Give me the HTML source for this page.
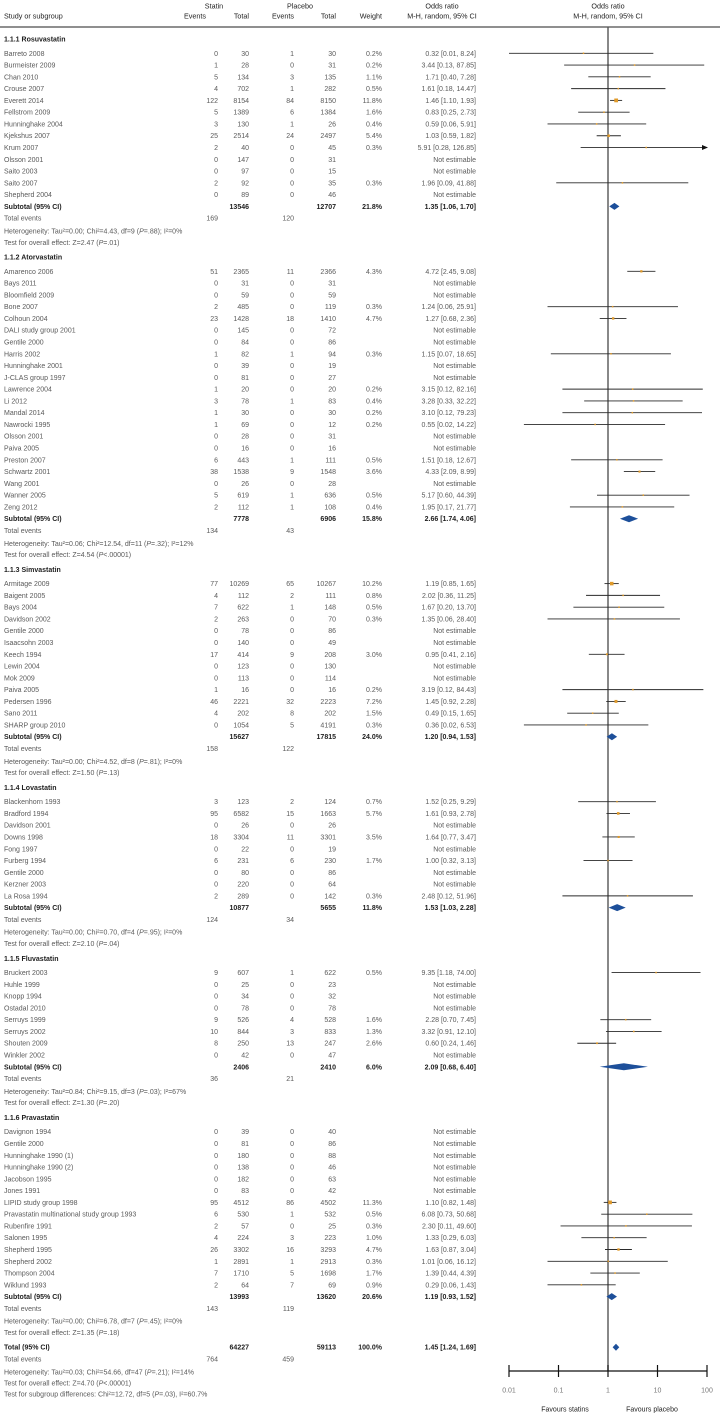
<!DOCTYPE html>
<html><head><meta charset="utf-8">
<style>
html,body{margin:0;padding:0;background:#fff;}
svg{display:block;font-family:"Liberation Sans",sans-serif;}
</style></head>
<body>
<svg id="plot" width="720" height="1416" viewBox="0 0 720 1416" xmlns="http://www.w3.org/2000/svg"></svg>
<script>
// ---- data arrays ----
const groupNames = ["1.1.1 Rosuvastatin","1.1.2 Atorvastatin","1.1.3 Simvastatin","1.1.4 Lovastatin","1.1.5 Fluvastatin","1.1.6 Pravastatin"];
const studyNames = [
 ["Barreto 2008","Burmeister 2009","Chan 2010","Crouse 2007","Everett 2014","Fellstrom 2009","Hunninghake 2004","Kjekshus 2007","Krum 2007","Olsson 2001","Saito 2003","Saito 2007","Shepherd 2004"],
 ["Amarenco 2006","Bays 2011","Bloomfield 2009","Bone 2007","Colhoun 2004","DALI study group 2001","Gentile 2000","Harris 2002","Hunninghake 2001","J-CLAS group 1997","Lawrence 2004","Li 2012","Mandal 2014","Nawrocki 1995","Olsson 2001","Paiva 2005","Preston 2007","Schwartz 2001","Wang 2001","Wanner 2005","Zeng 2012"],
 ["Armitage 2009","Baigent 2005","Bays 2004","Davidson 2002","Gentile 2000","Isaacsohn 2003","Keech 1994","Lewin 2004","Mok 2009","Paiva 2005","Pedersen 1996","Sano 2011","SHARP group 2010"],
 ["Blackenhorn 1993","Bradford 1994","Davidson 2001","Downs 1998","Fong 1997","Furberg 1994","Gentile 2000","Kerzner 2003","La Rosa 1994"],
 ["Bruckert 2003","Huhle 1999","Knopp 1994","Ostadal 2010","Serruys 1999","Serruys 2002","Shouten 2009","Winkler 2002"],
 ["Davignon 1994","Gentile 2000","Hunninghake 1990 (1)","Hunninghake 1990 (2)","Jacobson 1995","Jones 1991","LIPID study group 1998","Pravastatin multinational study group 1993","Rubenfire 1991","Salonen 1995","Shepherd 1995","Shepherd 2002","Thompson 2004","Wiklund 1993"]
];
const statinEvents = [
 [0,1,5,4,122,5,3,25,2,0,0,2,0],
 [51,0,0,2,23,0,0,1,0,0,1,3,1,1,0,0,6,38,0,5,2],
 [77,4,7,2,0,0,17,0,0,1,46,4,0],
 [3,95,0,18,0,6,0,0,2],
 [9,0,0,0,9,10,8,0],
 [0,0,0,0,0,0,95,6,2,4,26,1,7,2]
];
const statinTotal = [
 [30,28,134,702,8154,1389,130,2514,40,147,97,92,89],
 [2365,31,59,485,1428,145,84,82,39,81,20,78,30,69,28,16,443,1538,26,619,112],
 [10269,112,622,263,78,140,414,123,113,16,2221,202,1054],
 [123,6582,26,3304,22,231,80,220,289],
 [607,25,34,78,526,844,250,42],
 [39,81,180,138,182,83,4512,530,57,224,3302,2891,1710,64]
];
const placeboEvents = [
 [1,0,3,1,84,6,1,24,0,0,0,0,0],
 [11,0,0,0,18,0,0,1,0,0,0,1,0,0,0,0,1,9,0,1,1],
 [65,2,1,0,0,0,9,0,0,0,32,8,5],
 [2,15,0,11,0,6,0,0,0],
 [1,0,0,0,4,3,13,0],
 [0,0,0,0,0,0,86,1,0,3,16,1,5,7]
];
const placeboTotal = [
 [30,31,135,282,8150,1384,26,2497,45,31,15,35,46],
 [2366,31,59,119,1410,72,86,94,19,27,20,83,30,12,31,16,111,1548,28,636,108],
 [10267,111,148,70,86,49,208,130,114,16,2223,202,4191],
 [124,1663,26,3301,19,230,86,64,142],
 [622,23,32,78,528,833,247,47],
 [40,86,88,46,63,42,4502,532,25,223,3293,2913,1698,69]
];
const weights = [
 [0.2,0.2,1.1,0.5,11.8,1.6,0.4,5.4,0.3,null,null,0.3,null],
 [4.3,null,null,0.3,4.7,null,null,0.3,null,null,0.2,0.4,0.2,0.2,null,null,0.5,3.6,null,0.5,0.4],
 [10.2,0.8,0.5,0.3,null,null,3.0,null,null,0.2,7.2,1.5,0.3],
 [0.7,5.7,null,3.5,null,1.7,null,null,0.3],
 [0.5,null,null,null,1.6,1.3,2.6,null],
 [null,null,null,null,null,null,11.3,0.5,0.3,1.0,4.7,0.3,1.7,0.9]
];
const orValues = [
 [0.32,3.44,1.71,1.61,1.46,0.83,0.59,1.03,5.91,null,null,1.96,null],
 [4.72,null,null,1.24,1.27,null,null,1.15,null,null,3.15,3.28,3.10,0.55,null,null,1.51,4.33,null,5.17,1.95],
 [1.19,2.02,1.67,1.35,null,null,0.95,null,null,3.19,1.45,0.49,0.36],
 [1.52,1.61,null,1.64,null,1.00,null,null,2.48],
 [9.35,null,null,null,2.28,3.32,0.60,null],
 [null,null,null,null,null,null,1.10,6.08,2.30,1.33,1.63,1.01,1.39,0.29]
];
const orLower = [
 [0.01,0.13,0.40,0.18,1.10,0.25,0.06,0.59,0.28,null,null,0.09,null],
 [2.45,null,null,0.06,0.68,null,null,0.07,null,null,0.12,0.33,0.12,0.02,null,null,0.18,2.09,null,0.60,0.17],
 [0.85,0.36,0.20,0.06,null,null,0.41,null,null,0.12,0.92,0.15,0.02],
 [0.25,0.93,null,0.77,null,0.32,null,null,0.12],
 [1.18,null,null,null,0.70,0.91,0.24,null],
 [null,null,null,null,null,null,0.82,0.73,0.11,0.29,0.87,0.06,0.44,0.06]
];
const orUpper = [
 [8.24,87.85,7.28,14.47,1.93,2.73,5.91,1.82,126.85,null,null,41.88,null],
 [9.08,null,null,25.91,2.36,null,null,18.65,null,null,82.16,32.22,79.23,14.22,null,null,12.67,8.99,null,44.39,21.77],
 [1.65,11.25,13.70,28.40,null,null,2.16,null,null,84.43,2.28,1.65,6.53],
 [9.29,2.78,null,3.47,null,3.13,null,null,51.96],
 [74.00,null,null,null,7.45,12.10,1.46,null],
 [null,null,null,null,null,null,1.48,50.68,49.60,6.03,3.04,16.12,4.39,1.43]
];
const subTotalStatin = [13546,7778,15627,10877,2406,13993];
const subTotalPlacebo = [12707,6906,17815,5655,2410,13620];
const subWeight = [21.8,15.8,24.0,11.8,6.0,20.6];
const subOR = [1.35,2.66,1.20,1.53,2.09,1.19];
const subLower = [1.06,1.74,0.94,1.03,0.68,0.93];
const subUpper = [1.70,4.06,1.53,2.28,6.40,1.52];
const subEventsStatin = [169,134,158,124,36,143];
const subEventsPlacebo = [120,43,122,34,21,119];
const hetTau = ["0.00","0.06","0.00","0.00","0.84","0.00"];
const hetChi = ["4.43","12.54","4.52","0.70","9.15","6.78"];
const hetDf = [9,11,8,4,3,7];
const hetP = ["=.88","=.32","=.81","=.95","=.03","=.45"];
const hetI = ["0%","12%","0%","0%","67%","0%"];
const zVal = ["2.47","4.54","1.50","2.10","1.30","1.35"];
const zP = ["=.01","<.00001","=.13","=.04","=.20","=.18"];
const totalOR = 1.45, totalLower = 1.24, totalUpper = 1.69;
const tickValues = [0.01,0.1,1,10,100];
const tickLabels = ["0.01","0.1","1","10","100"];

// ---- layout ----
const svg = document.getElementById('plot');
const NS = "http://www.w3.org/2000/svg";
const X0 = 509, X1 = 707;
function xs(v){ return X0 + (Math.log10(v) + 2) / 4 * (X1 - X0); }
const ROW = 11.78;
const COL = {name:4, sEv:218, sTot:249, pEv:294, pTot:336, w:382, or:476};
const GRAY = "#5a5a5a", DARK = "#1e1e1e";

function txt(x,y,s,opts){
  const t = document.createElementNS(NS,'text');
  t.setAttribute('x',x); t.setAttribute('y',y+2.5);
  t.setAttribute('font-size',(opts&&opts.size)||7);
  t.setAttribute('fill',(opts&&opts.fill)||GRAY);
  if(opts&&opts.anchor) t.setAttribute('text-anchor',opts.anchor);
  if(opts&&opts.bold) t.setAttribute('font-weight','bold');
  t.textContent = s;
  svg.appendChild(t);
  return t;
}
function line(x1,y1,x2,y2,stroke,w){
  const l = document.createElementNS(NS,'line');
  l.setAttribute('x1',x1); l.setAttribute('y1',y1); l.setAttribute('x2',x2); l.setAttribute('y2',y2);
  l.setAttribute('stroke',stroke); l.setAttribute('stroke-width',w);
  svg.appendChild(l); return l;
}
function fmt(v){ return v.toFixed(2); }
function richText(x,y,parts){
  const t = document.createElementNS(NS,'text');
  t.setAttribute('x',x); t.setAttribute('y',y+2.5);
  t.setAttribute('font-size',7); t.setAttribute('fill',GRAY);
  parts.forEach(p=>{
    const ts = document.createElementNS(NS,'tspan');
    if(p.i) ts.setAttribute('font-style','italic');
    ts.textContent = p.s; t.appendChild(ts);
  });
  svg.appendChild(t); return t;
}
function diamond(lo,mid,hi,y){
  const p = document.createElementNS(NS,'polygon');
  p.setAttribute('points',`${xs(lo)},${y} ${xs(mid)},${y-3.5} ${xs(hi)},${y} ${xs(mid)},${y+3.5}`);
  p.setAttribute('fill','#1d4f9a');
  svg.appendChild(p); return p;
}

let h;
h=txt(214,6,"Statin",{anchor:"middle",fill:DARK,size:7.2});  
h=txt(300,6,"Placebo",{anchor:"middle",fill:DARK,size:7.2});  
h=txt(442,6,"Odds ratio",{anchor:"middle",fill:DARK,size:7.2});  
h=txt(608,6,"Odds ratio",{anchor:"middle",fill:DARK,size:7.2});  
h=txt(4,16,"Study or subgroup",{fill:DARK,size:7.2});  
txt(206,16,"Events",{anchor:"end",fill:DARK,size:7.2});
txt(COL.sTot,16,"Total",{anchor:"end",fill:DARK,size:7.2});
txt(294,16,"Events",{anchor:"end",fill:DARK,size:7.2});
txt(COL.pTot,16,"Total",{anchor:"end",fill:DARK,size:7.2});
h=txt(COL.w,16,"Weight",{anchor:"end",fill:DARK,size:7.2});  
txt(442,16,"M-H, random, 95% CI",{anchor:"middle",fill:DARK,size:7.2});
txt(608,16,"M-H, random, 95% CI",{anchor:"middle",fill:DARK,size:7.2});
h=line(0,27,720,27,"#6a6a6a",1.4);  

const nl = line(xs(1),27,xs(1),1371,"#555",1.4);



let y = 39;
for(let g=0; g<groupNames.length; g++){
  const gh = txt(COL.name,y,groupNames[g],{fill:DARK,bold:true});
  
  
  y += ROW + 2.5;
  for(let i=0;i<studyNames[g].length;i++){
    const n = txt(COL.name,y,studyNames[g][i]);
    
    
    txt(COL.sEv,y,String(statinEvents[g][i]),{anchor:"end"});
    txt(COL.sTot,y,String(statinTotal[g][i]),{anchor:"end"});
    txt(COL.pEv,y,String(placeboEvents[g][i]),{anchor:"end"});
    txt(COL.pTot,y,String(placeboTotal[g][i]),{anchor:"end"});
    if(orValues[g][i]===null){
      txt(COL.or,y,"Not estimable",{anchor:"end"});
    } else {
      txt(COL.w,y,weights[g][i].toFixed(1)+"%",{anchor:"end"});
      txt(COL.or,y,fmt(orValues[g][i])+" ["+fmt(orLower[g][i])+", "+fmt(orUpper[g][i])+"]",{anchor:"end"});
      const hi = Math.min(orUpper[g][i],100), lo = Math.max(orLower[g][i],0.01);
      const ci = line(xs(lo),y,xs(hi),y,"#2a2a2a",0.9);
      
      
      if(orUpper[g][i]>100){
        const a = document.createElementNS(NS,'polygon');
        a.setAttribute('points',`${X1+1},${y} ${X1-5},${y-2.5} ${X1-5},${y+2.5}`);
        a.setAttribute('fill','#111');
        
        
        svg.appendChild(a);
      }
      const s = Math.max(1.5, Math.sqrt(weights[g][i])*1.1);
      const r = document.createElementNS(NS,'rect');
      r.setAttribute('x',xs(orValues[g][i])-s/2); r.setAttribute('y',y-s/2);
      r.setAttribute('width',s); r.setAttribute('height',s);
      r.setAttribute('fill','#e09a2a');
      
      
      svg.appendChild(r);
    }
    y += ROW;
  }
  const st = txt(COL.name,y,"Subtotal (95% CI)",{fill:DARK,bold:true});
  
  
  txt(COL.sTot,y,String(subTotalStatin[g]),{anchor:"end",fill:DARK,bold:true});
  txt(COL.pTot,y,String(subTotalPlacebo[g]),{anchor:"end",fill:DARK,bold:true});
  txt(COL.w,y,subWeight[g].toFixed(1)+"%",{anchor:"end",fill:DARK,bold:true});
  txt(COL.or,y,fmt(subOR[g])+" ["+fmt(subLower[g])+", "+fmt(subUpper[g])+"]",{anchor:"end",fill:DARK,bold:true});
  const d = diamond(subLower[g],subOR[g],subUpper[g],y);
  
  
  y += ROW;
  txt(COL.name,y,"Total events");
  txt(COL.sEv,y,String(subEventsStatin[g]),{anchor:"end"});
  txt(COL.pEv,y,String(subEventsPlacebo[g]),{anchor:"end"});
  y += ROW + 1;
  const het = richText(COL.name,y,[{s:"Heterogeneity: Tau²="+hetTau[g]+"; Chi²="+hetChi[g]+", df="+hetDf[g]+" ("},{s:"P",i:true},{s:hetP[g]+"); I²="+hetI[g]}]);
  
  
  y += ROW - 0.5;
  const oe = richText(COL.name,y,[{s:"Test for overall effect: Z="+zVal[g]+" ("},{s:"P",i:true},{s:zP[g]+")"}]);
  
  
  y += ROW + 3;
}
const tl = txt(COL.name,y,"Total (95% CI)",{fill:DARK,bold:true});


const sumS = subTotalStatin.reduce((a,b)=>a+b,0), sumP = subTotalPlacebo.reduce((a,b)=>a+b,0);
txt(COL.sTot,y,String(sumS),{anchor:"end",fill:DARK,bold:true});
txt(COL.pTot,y,String(sumP),{anchor:"end",fill:DARK,bold:true});
txt(COL.w,y,"100.0%",{anchor:"end",fill:DARK,bold:true});
txt(COL.or,y,fmt(totalOR)+" ["+fmt(totalLower)+", "+fmt(totalUpper)+"]",{anchor:"end",fill:DARK,bold:true});
const td = diamond(totalLower,totalOR,totalUpper,y);


y += ROW;
txt(COL.name,y,"Total events");
txt(COL.sEv,y,String(subEventsStatin.reduce((a,b)=>a+b,0)),{anchor:"end"});
txt(COL.pEv,y,String(subEventsPlacebo.reduce((a,b)=>a+b,0)),{anchor:"end"});
y += ROW + 1;
richText(COL.name,y,[{s:"Heterogeneity: Tau²=0.03; Chi²=54.66, df=47 ("},{s:"P",i:true},{s:"=.21); I²=14%"}]);
y += ROW - 0.8;
richText(COL.name,y,[{s:"Test for overall effect: Z=4.70 ("},{s:"P",i:true},{s:"<.00001)"}]);
y += ROW - 0.8;
richText(COL.name,y,[{s:"Test for subgroup differences: Chi²=12.72, df=5 ("},{s:"P",i:true},{s:"=.03), I²=60.7%"}]);

const ax = line(X0,1371,X1,1371,"#111",1.2);


tickValues.forEach((v,i)=>{
  const tk = line(xs(v),1365,xs(v),1377,"#111",1.2);
  
  
  const lb = txt(xs(v),1390,tickLabels[i],{anchor:"middle",fill:"#777"});
  
  
});
const f1 = txt(565,1409,"Favours statins",{anchor:"middle",fill:DARK});


const f2 = txt(652,1409,"Favours placebo",{anchor:"middle",fill:DARK});


</script>
</body></html>
